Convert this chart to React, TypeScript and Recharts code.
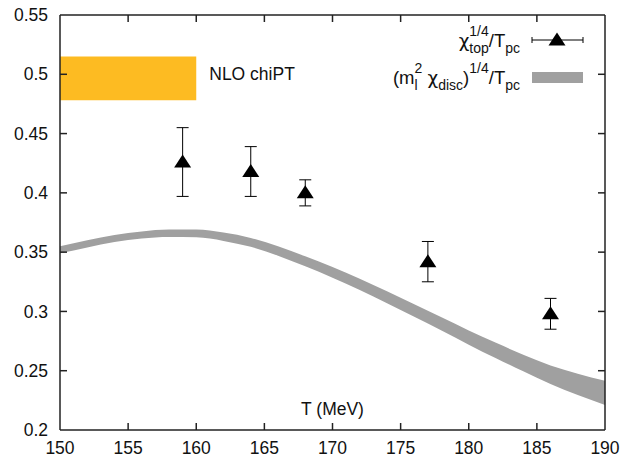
import React from 'react';
import {
  ComposedChart, Area, Scatter, ErrorBar, XAxis, YAxis, ReferenceArea, ReferenceDot, ReferenceLine,
} from 'recharts';

// gray band: (m_l^2 chi_disc)^(1/4)/T_pc, lower and upper edges
const bandT = [150, 152, 154, 156, 158, 160, 162, 164, 166, 168, 170, 172, 174, 176, 178, 180, 182, 184, 186, 188, 190];
const bandLow = [0.349, 0.354, 0.3585, 0.3615, 0.3628, 0.3625, 0.3595, 0.3545, 0.347, 0.338, 0.3285, 0.318, 0.307, 0.2955, 0.284, 0.272, 0.2605, 0.2495, 0.2387, 0.2295, 0.221];
const bandHigh = [0.355, 0.360, 0.3645, 0.3675, 0.369, 0.369, 0.3665, 0.362, 0.355, 0.3465, 0.3375, 0.3275, 0.317, 0.306, 0.295, 0.284, 0.2735, 0.2635, 0.2545, 0.2475, 0.2415];

// chi_top^(1/4)/T_pc points
const topT = [159, 164, 168, 177, 186];
const topVal = [0.426, 0.418, 0.400, 0.342, 0.298];
const topErr = [0.029, 0.021, 0.011, 0.017, 0.013];

// NLO chiPT box
const nloT = [150, 160];
const nloRange = [0.478, 0.515];

const xTicks = [150, 155, 160, 165, 170, 175, 180, 185, 190];
const yTicks = [0.2, 0.25, 0.3, 0.35, 0.4, 0.45, 0.5, 0.55];
const xDomain = [150, 190];
const yDomain = [0.2, 0.55];

const bandData = bandT.map((T, i) => ({ T, range: [bandLow[i], bandHigh[i]] }));
const topData = topT.map((T, i) => ({ T, v: topVal[i], err: topErr[i] }));

const FONT = '"Liberation Sans", Arial, Helvetica, sans-serif';
const CHI_FONT = '"DejaVu Sans", sans-serif';
const AXIS = '#222';
const GRAY = '#a0a0a0';
const ORANGE = '#fdbb22';

const W = 625;
const H = 458;
const M = { top: 14, right: 19, bottom: 0, left: 0 };
const Y_AXIS_W = 60;
const X_AXIS_H = 28;
const PLOT_W = W - M.left - M.right - Y_AXIS_W - 1;
const PLOT_H = H - M.top - M.bottom - X_AXIS_H - 1;
const TICK = 7;
const LABEL_GAP = 12;

// inward tick length in data units
const xTickLen = ((yDomain[1] - yDomain[0]) * TICK) / PLOT_H;
const yTickLen = ((xDomain[1] - xDomain[0]) * TICK) / PLOT_W;

const Triangle = (props: any) => {
  const { cx, cy } = props;
  if (cx == null || cy == null) return null;
  return <path d={`M${cx},${cy - 7.5} L${cx + 8.5},${cy + 5.5} L${cx - 8.5},${cy + 5.5} Z`} fill="#000" />;
};

const fmt = (v: number) => String(Number(v.toFixed(2)));

const tickStyle = { fontFamily: FONT, fontSize: 17.5, fill: '#111' };

const Legend = () => (
  <svg width={W} height={110} style={{ position: 'absolute', left: 0, top: 0, pointerEvents: 'none' }}>
    <text x={520} y={47} textAnchor="end" fontFamily={FONT} fontSize={18.5} fill="#111">
      <tspan fontFamily={CHI_FONT}>χ</tspan>
      <tspan fontSize={14} dy={6}>top</tspan>
      <tspan fontSize={14} dx={-19.5} dy={-17}>1/4</tspan>
      <tspan dy={11}>/T</tspan>
      <tspan fontSize={14} dy={6}>pc</tspan>
    </text>
    <line x1={532} x2={583} y1={40} y2={40} stroke="#000" strokeWidth={1} />
    <line x1={532} x2={532} y1={37} y2={43} stroke="#000" strokeWidth={1} />
    <line x1={583} x2={583} y1={37} y2={43} stroke="#000" strokeWidth={1} />
    <Triangle cx={557} cy={40} />

    <text x={520} y={84} textAnchor="end" fontFamily={FONT} fontSize={18.5} fill="#111">
      <tspan>(m</tspan>
      <tspan fontSize={14} dy={6}>l</tspan>
      <tspan fontSize={14} dx={-3} dy={-17}>2</tspan>
      <tspan dy={11}> </tspan>
      <tspan fontFamily={CHI_FONT}>χ</tspan>
      <tspan fontSize={14} dy={6}>disc</tspan>
      <tspan dy={-6}>)</tspan>
      <tspan fontSize={14} dy={-11}>1/4</tspan>
      <tspan dy={11}>/T</tspan>
      <tspan fontSize={14} dy={6}>pc</tspan>
    </text>
    <rect x={532} y={72} width={51} height={11} fill={GRAY} />
  </svg>
);

export default function App() {
  return (
    <div style={{ position: 'absolute', left: 0, top: 0, width: W, height: H, background: '#fff' }}>
      <ComposedChart width={W} height={H} data={bandData} margin={M}>
        <XAxis
          dataKey="T" type="number" domain={xDomain} ticks={xTicks} allowDataOverflow
          height={X_AXIS_H} tickSize={0} tickMargin={LABEL_GAP} tickLine={false} tick={tickStyle}
          axisLine={{ stroke: AXIS, strokeWidth: 1.5 }}
          label={{ value: 'T (MeV)', position: 'top', offset: 15, style: { fontFamily: FONT, fontSize: 17.5, fill: '#111' } }}
        />
        <XAxis
          xAxisId="top" orientation="top" type="number" domain={xDomain} ticks={xTicks} allowDataOverflow
          height={1} tick={false} tickLine={false}
          axisLine={{ stroke: AXIS, strokeWidth: 1.5 }}
        />
        <YAxis
          type="number" domain={yDomain} ticks={yTicks} allowDataOverflow
          width={Y_AXIS_W} tickSize={0} tickMargin={LABEL_GAP} tickLine={false} tick={tickStyle} tickFormatter={fmt}
          axisLine={{ stroke: AXIS, strokeWidth: 1.5 }}
        />
        <YAxis
          yAxisId="right" orientation="right" type="number" domain={yDomain} ticks={yTicks} allowDataOverflow
          width={1} tick={false} tickLine={false}
          axisLine={{ stroke: AXIS, strokeWidth: 1.5 }}
        />

        {/* inward, mirrored tick marks (gnuplot style) */}
        {xTicks.slice(1, -1).map((t) => (
          <ReferenceLine key={`xb${t}`} segment={[{ x: t, y: yDomain[0] }, { x: t, y: yDomain[0] + xTickLen }]} stroke={AXIS} strokeWidth={1.5} ifOverflow="visible" />
        ))}
        {xTicks.slice(1, -1).map((t) => (
          <ReferenceLine key={`xt${t}`} segment={[{ x: t, y: yDomain[1] }, { x: t, y: yDomain[1] - xTickLen }]} stroke={AXIS} strokeWidth={1.5} ifOverflow="visible" />
        ))}
        {yTicks.slice(1, -1).map((v) => (
          <ReferenceLine key={`yl${v}`} segment={[{ x: xDomain[0], y: v }, { x: xDomain[0] + yTickLen, y: v }]} stroke={AXIS} strokeWidth={1.5} ifOverflow="visible" />
        ))}
        {yTicks.slice(1, -1).map((v) => (
          <ReferenceLine key={`yr${v}`} segment={[{ x: xDomain[1], y: v }, { x: xDomain[1] - yTickLen, y: v }]} stroke={AXIS} strokeWidth={1.5} ifOverflow="visible" />
        ))}

        <ReferenceArea x1={nloT[0]} x2={nloT[1]} y1={nloRange[0]} y2={nloRange[1]} fill={ORANGE} fillOpacity={1} stroke="none" />
        <ReferenceDot
          x={nloT[1]} y={0.5} r={0} fill="none" stroke="none"
          label={{ value: 'NLO chiPT', position: 'right', offset: 13, style: { fontFamily: FONT, fontSize: 17.5, fill: '#111' } }}
        />
        <Area
          type="monotone" dataKey="range" stroke="none" fill={GRAY} fillOpacity={1}
          isAnimationActive={false} dot={false} activeDot={false}
        />
        <Scatter data={topData} dataKey="v" shape={<Triangle />} isAnimationActive={false}>
          <ErrorBar dataKey="err" direction="y" width={6} stroke="#000" strokeWidth={1} />
        </Scatter>
      </ComposedChart>
      <Legend />
    </div>
  );
}
